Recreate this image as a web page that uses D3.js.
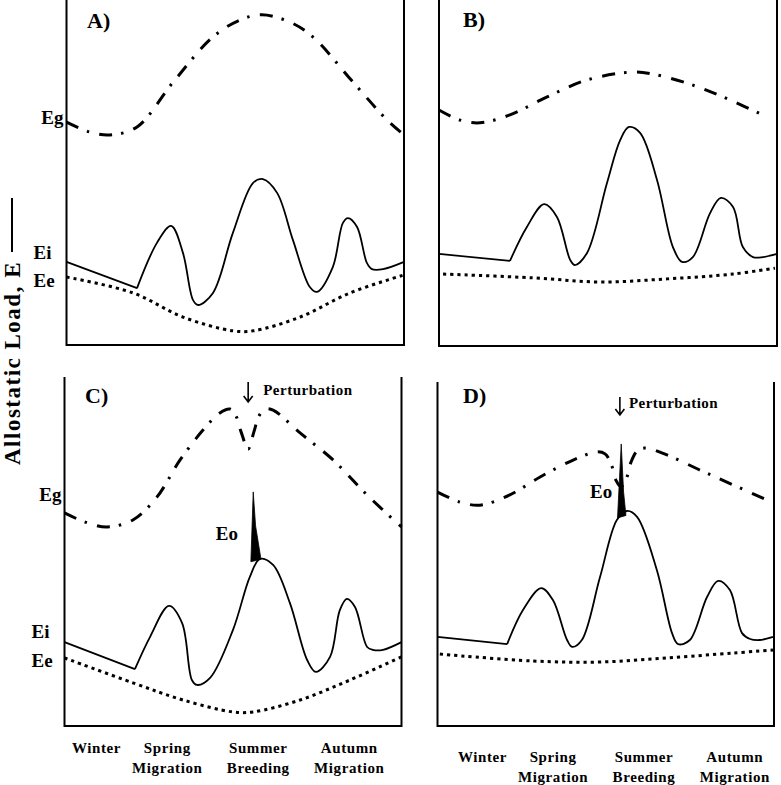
<!DOCTYPE html>
<html><head><meta charset="utf-8">
<script src="https://cdn.jsdelivr.net/npm/d3@7"></script>
<style>
html,body{margin:0;padding:0;background:#fff;}
svg{display:block;font-family:"Liberation Serif","Times New Roman",serif;font-weight:bold;}
</style></head><body>
<svg id="chart" width="781" height="785"></svg>
<script>
// ---- DATA (time: 0-100 across the annual cycle, load: 0-100 relative units) ----
const seasonLine1 = ["Winter", "Spring", "Summer", "Autumn"];
const seasonLine2 = ["", "Migration", "Breeding", "Migration"];
const seasonTimes = [9.5, 30.5, 57.5, 84.5];
const levelNames = ["Eg", "Ei", "Ee"];
const levelValues = [64, 25, 16.8];
const panelNames = ["A)", "B)", "C)", "D)"];

const egA = [[0,64.6],[7,61.7],[12.9,60.9],[20.9,63.2],[31.6,76.2],[43.4,89.3],[51.4,94.2],[57.9,95.7],[66.2,93.6],[73,89.3],[84.9,76.2],[95,65.2],[100,60.9]];
const eiA = [[0,24.1],[20.9,16.5],[26.8,29.6],[31,34.5],[34.5,26.7],[37.5,13],[39,11.6],[43.4,15.1],[49.3,32.5],[55.3,47],[58.2,48.1],[62.4,44.1],[67.1,30.4],[72.1,16.8],[74.2,15.4],[78.9,22.6],[81.9,35.4],[83.4,36.8],[86.1,34.2],[89,23.8],[90.5,22],[93.8,22],[100,24.1]];
const eeA = [[0,19.7],[19.7,15.1],[34.5,8.1],[49.3,4.1],[55.3,4.1],[69.2,8.1],[84,15.1],[100,20.3]];

const egB = [[0,68.2],[6.2,65.3],[12.1,64.5],[21,66.8],[32,72],[43.8,76.9],[57.4,79.2],[63.3,78.6],[75.1,75.4],[86.1,71.1],[97,66.2]];
const eiB = [[0,26.6],[21,24.6],[26,34.4],[31.1,41],[34.9,37.3],[38.8,24.9],[40.2,23.4],[43.8,26.9],[49.7,47.1],[53.6,59.5],[56.2,63.3],[59.5,61.6],[64.5,48],[69.2,28.6],[71.9,24.3],[75.1,25.7],[80.2,38.4],[83.4,42.8],[87,40.2],[89.9,28.6],[92.9,25.7],[95.9,25.7],[100,26.6]];
const eeB = [[1.2,20.8],[27.8,19.7],[47.6,18.5],[67.5,19.4],[87,20.8],[99.4,22.5]];

const egC = [[0,60.7],[6.1,58.1],[12.6,56.7],[20.3,58.7],[27.4,65.2],[34.3,75.8],[41.1,84.3],[46.1,89.2],[49.1,90.3],[50.9,88.3],[52.4,83.8],[54.5,78.9],[56.2,83.8],[57.7,88.3],[59.5,90.3],[61.9,90],[69.9,83.5],[79.7,75.8],[89.8,65.8],[100,56.7]];
const eiC = [[0,23.9],[20.9,16.2],[25.4,25.4],[31,34.2],[34.9,29.3],[37.8,13.1],[39.3,11.7],[43.2,13.7],[50,27.4],[55,42.5],[58,47.6],[61.9,45.9],[66.9,35],[72,18.8],[74.6,15.4],[78.8,19.7],[81.7,33],[83.8,36.2],[86.2,33.9],[89.8,22.5],[91.5,21.7],[94.5,21.7],[100,23.9]];
const eeC = [[0,19.4],[20.3,12.3],[35.2,7.4],[50,4],[55.9,4],[69.9,7.4],[84.7,13.1],[100,19.7]];
const eoC = [[55.3,46.8],[56,66.7],[56.7,57],[58.3,47.5]];

const egD = [[0,68],[6.7,65.1],[12.6,64.2],[21.5,67.2],[30.5,72.4],[40.3,77.3],[47.4,79.7],[49.8,79.1],[51.6,76.2],[53,71.5],[54.5,69.5],[56.3,72.4],[57.5,76.7],[59.3,79.9],[61.6,80.8],[68.2,78.8],[78,74.4],[87.8,70.1],[99.4,65.1]];
const eiD = [[0,25.9],[20.7,23.8],[25.4,33.7],[30.8,40.1],[34.3,36.6],[38.5,25],[40,23],[42.9,25],[48.3,43.3],[53.3,59.9],[56.3,62.5],[59.3,60.8],[65.2,45.3],[69.7,27],[71.5,23.8],[75,25],[80.1,37.5],[83.4,42.2],[86.9,39.5],[90.5,27],[92.9,25.3],[95.8,25],[99.7,25.9]];
const eeD = [[0.7,20.9],[28.4,18.9],[48.3,18.6],[68.2,19.8],[87.8,21.2],[99.7,22.1]];
const eoD = [[53.5,60.5],[54.6,82],[55.3,68],[56,61.2]];

const perturbTime = [54.5, 54.2];
const eoLabelPos = [[51.5, 53], [51.9, 66.3]];

// ---- LAYOUT ----
const layout = [
  {x0:66.5, x1:404, top:0, frameTop:0, bottom:345, eg:egA, ei:eiA, ee:eeA, levels:true, nameX:87, nameY:28},
  {x0:439, x1:777, top:0, frameTop:0, bottom:346, eg:egB, ei:eiB, ee:eeB, levels:false, nameX:463, nameY:27},
  {x0:64.5, x1:401.5, top:375, frameTop:377, bottom:726, eg:egC, ei:eiC, ee:eeC, eo:eoC, levels:true, nameX:85, nameY:403,
   pert:0, arrowTop:382, arrowBot:402, pertDx:15, pertY:395, seasonDx:0, row1:753, row2:773},
  {x0:437.5, x1:774, top:382, frameTop:382, bottom:726, eg:egD, ei:eiD, ee:eeD, eo:eoD, levels:false, nameX:463, nameY:403,
   pert:1, arrowTop:397, arrowBot:415, pertDx:9, pertY:408, seasonDx:13, row1:762, row2:782}
];

const svg = d3.select("#chart");

layout.forEach((p, i) => {
  const x = d3.scaleLinear().domain([0,100]).range([p.x0, p.x1]);
  const y = d3.scaleLinear().domain([0,100]).range([p.bottom, p.top]);
  const g = svg.append("g");

  // frame (open top)
  g.append("path")
    .attr("d", `M${p.x0},${p.frameTop}V${p.bottom}H${p.x1}V${p.frameTop}`)
    .attr("fill","none").attr("stroke","#000").attr("stroke-width",2);

  const smooth = d3.line().x(d=>x(d[0])).y(d=>y(d[1])).curve(d3.curveCatmullRom.alpha(0.5));
  const straight = d3.line().x(d=>x(d[0])).y(d=>y(d[1]));

  // Eg dash-dot
  g.append("path").attr("d", smooth(p.eg))
    .attr("fill","none").attr("stroke","#000").attr("stroke-width",3)
    .attr("stroke-dasharray","13,9,2.5,10.5");

  // Ee dotted
  g.append("path").attr("d", smooth(p.ee))
    .attr("fill","none").attr("stroke","#000").attr("stroke-width",3)
    .attr("stroke-dasharray","3.2,4");

  // Ei solid: straight winter segment then smooth
  g.append("path").attr("d", straight(p.ei.slice(0,2)) + smooth(p.ei.slice(1)))
    .attr("fill","none").attr("stroke","#000").attr("stroke-width",1.8);

  // Eo spike
  if (p.eo) {
    g.append("path").attr("d", straight(p.eo) + "Z").attr("fill","#000").attr("stroke","#000").attr("stroke-width",0.8);
    const lp = eoLabelPos[i-2];
    g.append("text").attr("x", x(lp[0])).attr("y", y(lp[1])).attr("text-anchor","end")
      .attr("font-size",19).text("Eo");
  }

  // panel name
  g.append("text").attr("x", p.nameX).attr("y", p.nameY).attr("font-size",22).text(panelNames[i]);

  // level labels
  if (p.levels) {
    levelNames.forEach((n, k) => {
      g.append("text")
        .attr("x", k === 0 ? p.x0 - 3 : p.x0 - 33)
        .attr("y", y(levelValues[k]))
        .attr("text-anchor", k === 0 ? "end" : "start")
        .attr("font-size",19).text(n);
    });
  }

  // perturbation arrow
  if (p.pert !== undefined) {
    const ax = x(perturbTime[p.pert]);
    g.append("path")
      .attr("d", `M${ax},${p.arrowTop}V${p.arrowBot}M${ax-4.5},${p.arrowBot-6}L${ax},${p.arrowBot}L${ax+4.5},${p.arrowBot-6}`)
      .attr("fill","none").attr("stroke","#000").attr("stroke-width",1.6);
    g.append("text").attr("x", ax + p.pertDx).attr("y", p.pertY)
      .attr("font-size",15).attr("letter-spacing","0.5px").text("Perturbation");

    // season labels
    seasonTimes.forEach((t, k) => {
      const cx = x(t) + p.seasonDx;
      g.append("text").attr("x", cx).attr("y", p.row1).attr("text-anchor","middle")
        .attr("font-size",15).attr("letter-spacing","0.6px").text(seasonLine1[k]);
      if (seasonLine2[k]) g.append("text").attr("x", cx).attr("y", p.row2).attr("text-anchor","middle")
        .attr("font-size",15).attr("letter-spacing","0.6px").text(seasonLine2[k]);
    });
  }
});

// y-axis title with line sample
svg.append("text").attr("transform","translate(20,465) rotate(-90)")
  .attr("font-size",23).attr("letter-spacing","1.5px").text("Allostatic Load, E");
svg.append("line").attr("x1",12).attr("x2",12).attr("y1",198).attr("y2",252)
  .attr("stroke","#000").attr("stroke-width",2);
</script>
</body></html>
